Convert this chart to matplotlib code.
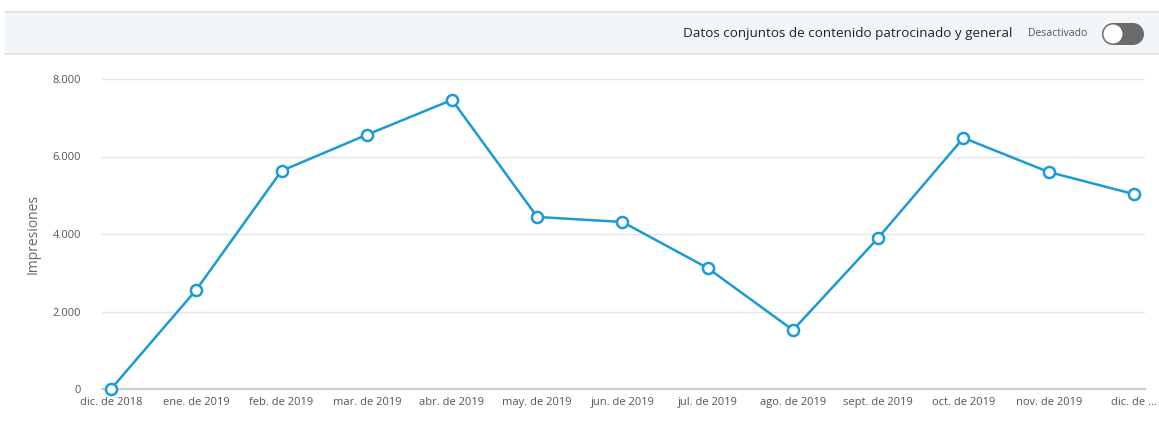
import matplotlib.pyplot as plt
from matplotlib.patches import Rectangle, Ellipse
from matplotlib.ticker import FuncFormatter

months = ['dic. de 2018', 'ene. de 2019', 'feb. de 2019', 'mar. de 2019', 'abr. de 2019',
          'may. de 2019', 'jun. de 2019', 'jul. de 2019', 'ago. de 2019', 'sept. de 2019',
          'oct. de 2019', 'nov. de 2019', 'dic. de ...']
impressions = [0, 2560, 5630, 6560, 7460, 4440, 4310, 3120, 1520, 3900, 6480, 5600, 5030]
yticks = [0, 2000, 4000, 6000, 8000]

plt.rcParams['font.family'] = ['Open Sans', 'DejaVu Sans']

W, H = 1159, 424
fig = plt.figure(figsize=(W / 100, H / 100), dpi=100)

# header band with toggle
fig.patches.append(Rectangle((5 / W, 1 - 54 / H), 1 - 5 / W, 42 / H, transform=fig.transFigure,
                             facecolor='#f3f6f8', edgecolor='none'))
for yy in (12, 54):
    fig.add_artist(plt.Line2D([5 / W, 1], [1 - yy / H, 1 - yy / H], transform=fig.transFigure,
                              color='#dde1e5', lw=1.2))
fig.text(1012 / W, 1 - 34 / H, 'Datos conjuntos de contenido patrocinado y general',
         ha='right', va='center', fontsize=9.7, color='#222222')
fig.text(1028 / W, 1 - 34 / H, 'Desactivado', ha='left', va='center', fontsize=7.5, color='#555555')
pill = '#6b6b6b'
fig.patches.append(Rectangle((1113 / W, 1 - 45 / H), 20 / W, 22 / H, transform=fig.transFigure,
                             facecolor=pill, edgecolor='none'))
for cx in (1113, 1133):
    fig.patches.append(Ellipse((cx / W, 1 - 34 / H), 22 / W, 22 / H, transform=fig.transFigure,
                               facecolor=pill, edgecolor='none'))
fig.patches.append(Ellipse((1113 / W, 1 - 34 / H), 19 / W, 19 / H, transform=fig.transFigure,
                           facecolor='white', edgecolor='none'))

ax = fig.add_axes([102 / W, 1 - 389 / H, (1145 - 102) / W, (389 - 79) / H])
x = list(range(len(months)))
ax.plot(x, impressions, color='#1b9ad6', lw=1.8, marker='o', markersize=8,
        markerfacecolor='white', markeredgecolor='#1b9ad6', markeredgewidth=1.8,
        clip_on=False, zorder=3)

ax.set_xlim(-0.106, 12.13)
ax.set_ylim(0, 8000)
ax.set_yticks(yticks)
ax.yaxis.set_major_formatter(FuncFormatter(lambda v, p: f'{int(v):,}'.replace(',', '.')))
ax.set_xticks(x)
ax.set_xticklabels(months)
ax.tick_params(axis='both', length=0, labelsize=8, labelcolor='#555555')
ax.tick_params(axis='y', pad=15)
ax.tick_params(axis='x', pad=6)
ax.grid(axis='y', color='#e3e5e8', lw=1)
ax.set_axisbelow(True)
for s in ('top', 'right', 'left'):
    ax.spines[s].set_visible(False)
ax.spines['bottom'].set_color('#c9ced6')
ax.spines['bottom'].set_linewidth(1.6)
ax.set_ylabel('Impresiones', fontsize=10, color='#666666', labelpad=9)

fig.savefig('out.png', dpi=100)
